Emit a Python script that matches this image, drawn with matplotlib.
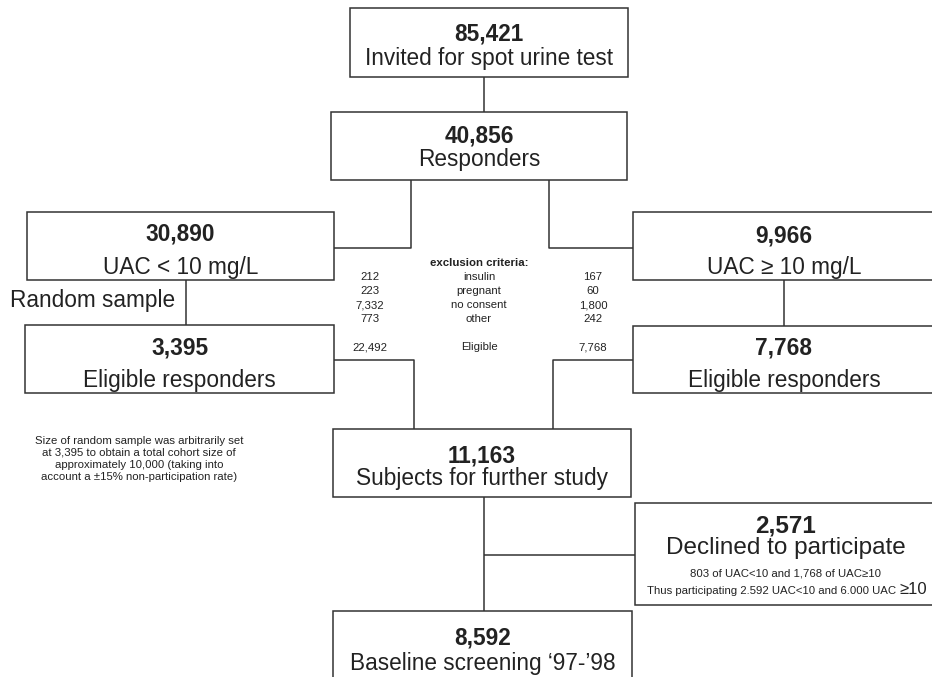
import matplotlib
matplotlib.use("Agg")
import matplotlib.pyplot as plt
from matplotlib import font_manager as fm
from matplotlib.patches import Rectangle

# pick the regular-width Liberation Sans (not the Narrow cut)
reg_path = None
bold_path = None
for f in fm.fontManager.ttflist:
    name = f.fname.lower()
    if 'liberationsans' in name.replace('-', '').replace('_', '') and 'narrow' not in name:
        if f.weight in (400, 'normal') and f.style == 'normal':
            reg_path = f.fname
        if f.weight in (700, 'bold') and f.style == 'normal':
            bold_path = f.fname

# flowchart content
box_counts = ['85,421', '40,856', '30,890', '9,966', '3,395', '7,768', '11,163', '2,571', '8,592']
box_labels = ['Invited for spot urine test', 'Responders', 'UAC < 10 mg/L', 'UAC \u2265 10 mg/L',
              'Eligible responders', 'Eligible responders', 'Subjects for further study',
              'Declined to participate', 'Baseline screening \u201897-\u201998']
excl_criteria = ['insulin', 'pregnant', 'no consent', 'other']
excl_low = ['212', '223', '7,332', '773']
excl_high = ['167', '60', '1,800', '242']
eligible_low = '22,492'
eligible_high = '7,768'
sample_note = ('Size of random sample was arbitrarily set\nat 3,395 to obtain a total cohort size of\n'
               'approximately 10,000 (taking into\naccount a \u00b115% non-participation rate)')
declined_note1 = '803 of UAC<10 and 1,768 of UAC\u226510'
declined_note2 = 'Thus participating 2.592 UAC<10 and 6.000 UAC '

# layout in pixels: x0, y0, x1, y1, number baseline, label baseline, font size
boxes = [
    (350, 8, 628, 77, 40, 65, 16.3),
    (331, 112, 627, 180, 142, 166, 16.3),
    (27, 212, 334, 280, 240, 274, 16.3),
    (633, 212, 940, 280, 243, 274, 16.3),
    (25, 325, 334, 393, 355, 387, 16.3),
    (633, 326, 940, 393, 355, 387, 16.3),
    (333, 429, 631, 497, 462, 485, 16.3),
    (635, 503, 940, 605, 533, 554, 17.5),
    (333, 611, 632, 700, 645, 670, 16.3),
]

links = [
    [(484, 77), (484, 112)],
    [(411, 180), (411, 248), (334, 248)],
    [(549, 180), (549, 248), (633, 248)],
    [(186, 280), (186, 325)],
    [(784, 280), (784, 326)],
    [(334, 360), (414, 360), (414, 429)],
    [(633, 360), (553, 360), (553, 429)],
    [(484, 497), (484, 611)],
    [(484, 555), (635, 555)],
]

txt = '#222222'
edge = '#333333'


def fp(size, bold=False):
    path = bold_path if bold else reg_path
    if path:
        return fm.FontProperties(fname=path, size=size)
    return fm.FontProperties(family=['Arial', 'DejaVu Sans'], size=size,
                             weight='bold' if bold else 'normal')


fig = plt.figure(figsize=(9.32, 6.77), dpi=100)
ax = fig.add_axes([0, 0, 1, 1])
ax.set_xlim(0, 932)
ax.set_ylim(677, 0)
ax.axis('off')

for pts in links:
    xs = [p[0] for p in pts]
    ys = [p[1] for p in pts]
    ax.plot(xs, ys, color=edge, lw=1.1, solid_capstyle='butt', zorder=1)

for (x0, y0, x1, y1, nb, lb, fs), cnt, lab in zip(boxes, box_counts, box_labels):
    ax.add_patch(Rectangle((x0, y0), x1 - x0, y1 - y0, facecolor='white',
                           edgecolor=edge, lw=1.1, zorder=2))
    cx = x0 + 151 if x1 > 932 else (x0 + x1) / 2
    ax.text(cx, nb, cnt, ha='center', va='baseline', fontproperties=fp(fs, True),
            color=txt, zorder=3)
    ax.text(cx, lb, lab, ha='center', va='baseline', fontproperties=fp(fs), color=txt, zorder=3)

ax.text(10, 300, 'Random sample', ha='left', va='center', fontproperties=fp(16.3), color=txt)

# exclusion criteria table
small = 8.2
ax.text(479, 266, 'exclusion criteria:', ha='center', va='baseline',
        fontproperties=fp(small, True), color=txt)
for i, (crit, lo, hi) in enumerate(zip(excl_criteria, excl_low, excl_high)):
    y = 280 + 14 * i
    ax.text(370, y, lo, ha='center', va='baseline', fontproperties=fp(small), color=txt)
    ax.text(479, y, crit, ha='center', va='baseline', fontproperties=fp(small), color=txt)
    ax.text(593, y, hi, ha='center', va='baseline', fontproperties=fp(small), color=txt)
ax.text(370, 350, eligible_low, ha='center', va='baseline', fontproperties=fp(small), color=txt)
ax.text(479, 350, 'Eligible', ha='center', va='baseline', fontproperties=fp(small), color=txt)
ax.text(593, 350, eligible_high, ha='center', va='baseline', fontproperties=fp(small), color=txt)

ax.text(139, 459, sample_note, ha='center', va='center', fontproperties=fp(small), color=txt,
        linespacing=1.28)

ax.text(786, 577, declined_note1, ha='center', va='baseline', fontproperties=fp(small), color=txt)
t = ax.text(647, 594, declined_note2, ha='left', va='baseline', fontproperties=fp(small), color=txt)
fig.canvas.draw()
bb = t.get_window_extent()
x_end = ax.transData.inverted().transform((bb.x1, bb.y0))[0]
ax.text(x_end, 594, '\u226510', ha='left', va='baseline', fontproperties=fp(12), color=txt)

fig.savefig('out.png', dpi=100)
